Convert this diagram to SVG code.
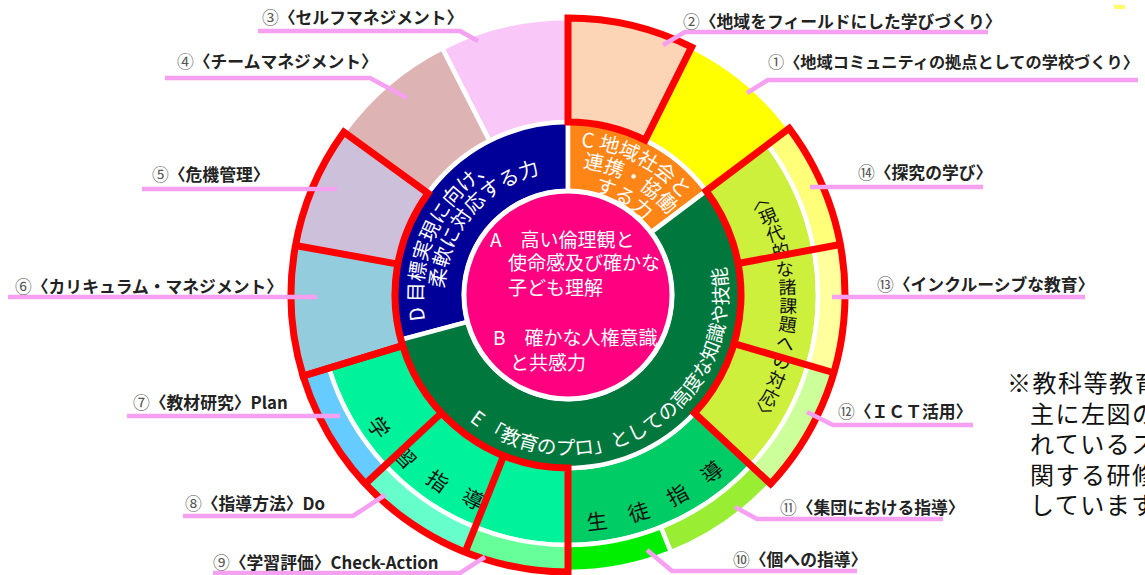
<svg xmlns="http://www.w3.org/2000/svg" width="1145" height="575" viewBox="0 0 1145 575">
<style>
.sec{stroke:#fff;stroke-width:4.5;stroke-linejoin:round}
.red{fill:none;stroke:#ff0000;stroke-width:7;stroke-linejoin:miter}
.lead{fill:none;stroke:#f5a0f0;stroke-width:4.5}
.lbl{font-family:"Noto Sans CJK JP","Noto Sans",sans-serif;font-size:16.8px;font-weight:700;fill:#222}
.num{font-weight:400;fill:#555}
.wt{font-family:"Noto Sans CJK JP",sans-serif;fill:#fff}
.bk{font-family:"Noto Sans CJK JP",sans-serif;fill:#111;text-anchor:middle;dominant-baseline:central}
.note{font-family:"Noto Sans CJK JP",sans-serif;font-size:24px;fill:#111;letter-spacing:1.5px}
</style>
<defs>
<path id="pD1" d="M436.59,356.28 A145,145 0 0 1 530.47,154.94"/>
<path id="pD2" d="M445.88,316.53 A124,124 0 0 1 568,171"/>
<path id="pC1" d="M510.98,157.34 A149,149 0 0 1 713.47,262.76"/>
<path id="pC2" d="M522.12,175.50 A128,128 0 0 1 693.64,270.58"/>
<path id="pC3" d="M531.41,194.45 A107,107 0 0 1 673.37,276.42"/>
<path id="pE" d="M456.85,410.09 A160,160 0 0 0 721.80,250.90"/>
</defs>
<rect width="1145" height="575" fill="#fff"/>
<rect x="1114" y="5" width="11" height="4" fill="#ffff66"/>

<!-- outer ring upper sections -->
<g id="sec3"><path class="sec" fill="#f9c8f9" d="M489.46,140.86 L442.24,48.19 A277,277 0 0 1 568,18 L568,122 A173,173 0 0 0 489.46,140.86 Z"/></g>
<g id="sec4"><path class="sec" fill="#deb3b3" d="M428.04,193.31 L343.91,132.18 A277,277 0 0 1 442.24,48.19 L489.46,140.86 A173,173 0 0 0 428.04,193.31 Z"/></g>
<g id="sec5"><path class="sec" fill="#ccc0da" d="M397.79,264.07 L295.46,245.47 A277,277 0 0 1 343.91,132.18 L428.04,193.31 A173,173 0 0 0 397.79,264.07 Z"/></g>
<g id="sec6"><path class="sec" fill="#93cddd" d="M402.56,345.59 L303.10,375.99 A277,277 0 0 1 295.46,245.47 L397.79,264.07 A173,173 0 0 0 402.56,345.59 Z"/></g>
<g id="sec2"><path class="sec" fill="#fbd5b5" d="M568,122 L568,18 A277,277 0 0 1 691.60,47.11 L645.19,140.18 A173,173 0 0 0 568,122 Z"/></g>
<g id="sec1"><path class="sec" fill="#ffff00" d="M645.19,140.18 L691.60,47.11 A277,277 0 0 1 789.21,128.30 L706.16,190.89 A173,173 0 0 0 645.19,140.18 Z"/></g>

<!-- inner bands -->
<g id="gendai"><path class="sec" fill="#ccf03c" d="M706.16,190.89 L767.65,144.55 A250,250 0 0 1 750.85,465.5 L694.53,412.99 A173,173 0 0 0 706.16,190.89 Z"/></g>
<g id="seito"><path class="sec" fill="#00cc66" d="M694.53,412.99 L750.85,465.5 A250,250 0 0 1 568,545 L568,468 A173,173 0 0 0 694.53,412.99 Z"/></g>
<g id="gakushu"><path class="sec" fill="#00f39a" d="M568,468 L568,545 A250,250 0 0 1 328.92,368.1 L402.56,345.59 A173,173 0 0 0 568,468 Z"/></g>

<!-- outer bands -->
<g id="sec14"><path class="sec" fill="#ffff7a" d="M767.65,144.55 L789.21,128.30 A277,277 0 0 1 840.37,244.53 L813.83,249.45 A250,250 0 0 0 767.65,144.55 Z"/></g>
<g id="sec13"><path class="sec" fill="#ffff9e" d="M813.83,249.45 L840.37,244.53 A277,277 0 0 1 833.86,372.75 L807.95,365.18 A250,250 0 0 0 813.83,249.45 Z"/></g>
<g id="sec12"><path class="sec" fill="#ccff99" d="M807.95,365.18 L833.86,372.75 A277,277 0 0 1 770.60,483.91 L750.85,465.5 A250,250 0 0 0 807.95,365.18 Z"/></g>
<g id="sec11"><path class="sec" fill="#99ee33" d="M750.85,465.5 L770.60,483.91 A277,277 0 0 1 670.88,552.19 L660.85,527.13 A250,250 0 0 0 750.85,465.5 Z"/></g>
<g id="sec10"><path class="sec" fill="#00ee00" d="M660.85,527.13 L670.88,552.19 A277,277 0 0 1 568,572 L568,545 A250,250 0 0 0 660.85,527.13 Z"/></g>
<g id="sec9"><path class="sec" fill="#66ff99" d="M568,545 L568,572 A277,277 0 0 1 465.12,552.19 L475.15,527.13 A250,250 0 0 0 568,545 Z"/></g>
<g id="sec8"><path class="sec" fill="#66ffcc" d="M475.15,527.13 L465.12,552.19 A277,277 0 0 1 365.40,483.91 L385.15,465.5 A250,250 0 0 0 475.15,527.13 Z"/></g>
<g id="sec7"><path class="sec" fill="#66ccff" d="M385.15,465.5 L365.40,483.91 A277,277 0 0 1 303.10,375.99 L328.92,368.1 A250,250 0 0 0 385.15,465.5 Z"/></g>

<!-- middle ring -->
<g id="ringD">
<path class="sec" fill="#000099" d="M467.55,321.92 L400.90,339.77 A173,173 0 0 1 568,122 L568,191 A104,104 0 0 0 467.55,321.92 Z"/>
<text class="wt" font-size="20" text-anchor="middle"><textPath href="#pD1" startOffset="50%">D 目標実現に向け、</textPath></text>
<text class="wt" font-size="20" text-anchor="middle"><textPath href="#pD2" startOffset="50%">柔軟に対応する力</textPath></text>
</g>
<g id="ringC">
<path class="sec" fill="#ff8517" d="M568,191 L568,122 A173,173 0 0 1 706.16,190.89 L651.05,232.41 A104,104 0 0 0 568,191 Z"/>
<text class="wt" font-size="20" text-anchor="middle"><textPath href="#pC1" startOffset="50%">C 地域社会と</textPath></text>
<text class="wt" font-size="20" text-anchor="middle"><textPath href="#pC2" startOffset="50%">連携・協働</textPath></text>
<text class="wt" font-size="20" text-anchor="middle"><textPath href="#pC3" startOffset="50%">する力</textPath></text>
</g>
<g id="ringE">
<path class="sec" fill="#00773c" d="M651.05,232.41 L706.16,190.89 A173,173 0 1 1 400.90,339.77 L467.55,321.92 A104,104 0 1 0 651.05,232.41 Z"/>
<text class="wt" font-size="19.5" text-anchor="middle"><textPath href="#pE" startOffset="50%">E 「教育のプロ」としての高度な知識や技能</textPath></text>
</g>
<g id="centerAB">
<circle cx="568" cy="295" r="104" fill="#ff0080" stroke="#fff" stroke-width="5"/>
<g class="wt" font-size="19">
<text x="490" y="247">A　高い倫理観と</text>
<text x="508" y="270">使命感及び確かな</text>
<text x="508" y="295">子ども理解</text>
<text x="493" y="345">B　確かな人権意識</text>
<text x="510" y="370">と共感力</text>
</g>
</g>

<!-- band texts -->
<g id="gakushu-text" class="bk" font-size="21">
<text x="568" y="525" transform="rotate(55 568 295)">学</text>
<text x="568" y="524" transform="rotate(45 568 295)">習</text>
<text x="568" y="521" transform="rotate(35 568 295)">指</text>
<text x="568" y="519" transform="rotate(25 568 295)">導</text>
</g>
<g id="seito-text" class="bk" font-size="21">
<text x="568" y="522" transform="rotate(-7.3 568 295)">生</text>
<text x="568" y="522" transform="rotate(-18 568 295)">徒</text>
<text x="568" y="522" transform="rotate(-28.7 568 295)">指</text>
<text x="568" y="522" transform="rotate(-39.1 568 295)">導</text>
</g>
<g id="gendai-text" class="bk" font-size="18">
<text x="782" y="295" transform="rotate(-26.5 568 295) rotate(90 782 295)">〈</text>
<text x="783.1" y="295" transform="rotate(-21.67 568 295)">現</text>
<text x="784.2" y="295" transform="rotate(-16.84 568 295)">代</text>
<text x="785.3" y="295" transform="rotate(-12.01 568 295)">的</text>
<text x="786.4" y="295" transform="rotate(-7.18 568 295)">な</text>
<text x="787.5" y="295" transform="rotate(-2.35 568 295)">諸</text>
<text x="788.6" y="295" transform="rotate(2.48 568 295)">課</text>
<text x="789.7" y="295" transform="rotate(7.31 568 295)">題</text>
<text x="790.8" y="295" transform="rotate(12.14 568 295)">へ</text>
<text x="791.9" y="295" transform="rotate(16.97 568 295)">の</text>
<text x="793" y="295" transform="rotate(21.8 568 295)">対</text>
<text x="794.1" y="295" transform="rotate(26.63 568 295)">応</text>
<text x="795.2" y="295" transform="rotate(31.46 568 295) rotate(90 795.2 295)">〉</text>
</g>

<!-- red frames -->
<g id="red-frames" class="red">
<path d="M568,122 L568,18 A277,277 0 0 1 691.60,47.11 L645.19,140.18 A173,173 0 0 0 568,122 Z"/>
<path d="M402.56,345.59 L303.10,375.99 A277,277 0 0 1 343.91,132.18 L428.04,193.31 A173,173 0 0 0 402.56,345.59 Z"/>
<path d="M397.79,264.07 L295.46,245.47"/>
<path d="M706.16,190.89 L789.21,128.30 A277,277 0 0 1 770.60,483.91 L694.53,412.99 A173,173 0 0 0 706.16,190.89 Z"/>
<path d="M738.11,263.48 L840.37,244.53"/>
<path d="M734.05,343.56 L833.86,372.75"/>
<path d="M568,468 L568,572 A277,277 0 0 1 303.10,375.99 L402.56,345.59 A173,173 0 0 0 568,468 Z"/>
<path d="M503.75,455.63 L465.12,552.19"/>
<path d="M441.47,412.99 L365.40,483.91"/>
</g>

<!-- connectors -->
<g id="connectors" class="lead">
<path d="M258,31 H460 L478,41"/>
<path d="M165,78 H370 L407,98"/>
<path d="M142,189 H337"/>
<path d="M8,297 H317"/>
<path d="M127,416 H340"/>
<path d="M183,516 H353 L385,495"/>
<path d="M213,573 H460 L485,557"/>
<path d="M663,45 L685,32 H988"/>
<path d="M747,93 L768,80 H1138"/>
<path d="M810,187 H983"/>
<path d="M832,297 H1085"/>
<path d="M807,412 L833,425 H973"/>
<path d="M735,507 L757,519 H943"/>
<path d="M647,550 L672,571 H857"/>
</g>

<!-- labels -->
<g id="labels" class="lbl">
<g id="label3"><text x="262" y="24"><tspan class="num">③</tspan>〈セルフマネジメント〉</text></g>
<g id="label4"><text x="177" y="68"><tspan class="num">④</tspan>〈チームマネジメント〉</text></g>
<g id="label5"><text x="152" y="181"><tspan class="num">⑤</tspan>〈危機管理〉</text></g>
<g id="label6"><text x="15" y="293"><tspan class="num">⑥</tspan>〈カリキュラム・マネジメント〉</text></g>
<g id="label7"><text x="133" y="409"><tspan class="num">⑦</tspan>〈教材研究〉Plan</text></g>
<g id="label8"><text x="185" y="510"><tspan class="num">⑧</tspan>〈指導方法〉Do</text></g>
<g id="label9"><text x="213" y="569"><tspan class="num">⑨</tspan>〈学習評価〉Check-Action</text></g>
<g id="label2"><text x="683" y="28"><tspan class="num">②</tspan>〈地域をフィールドにした学びづくり〉</text></g>
<g id="label1"><text x="768" y="68" font-size="16.2"><tspan class="num">①</tspan>〈地域コミュニティの拠点としての学校づくり〉</text></g>
<g id="label14"><text x="858" y="179"><tspan class="num">⑭</tspan>〈探究の学び〉</text></g>
<g id="label13"><text x="877" y="291"><tspan class="num">⑬</tspan>〈インクルーシブな教育〉</text></g>
<g id="label12"><text x="838" y="418"><tspan class="num">⑫</tspan>〈ＩＣＴ活用〉</text></g>
<g id="label11"><text x="780" y="514"><tspan class="num">⑪</tspan>〈集団における指導〉</text></g>
<g id="label10"><text x="733" y="566"><tspan class="num">⑩</tspan>〈個への指導〉</text></g>
</g>

<g id="note" class="note">
<text x="1007" y="392">※教科等教育</text>
<text x="1030" y="422.5">主に左図の</text>
<text x="1030" y="453">れているス</text>
<text x="1030" y="483.5">関する研修</text>
<text x="1030" y="514">しています</text>
</g>
</svg>
